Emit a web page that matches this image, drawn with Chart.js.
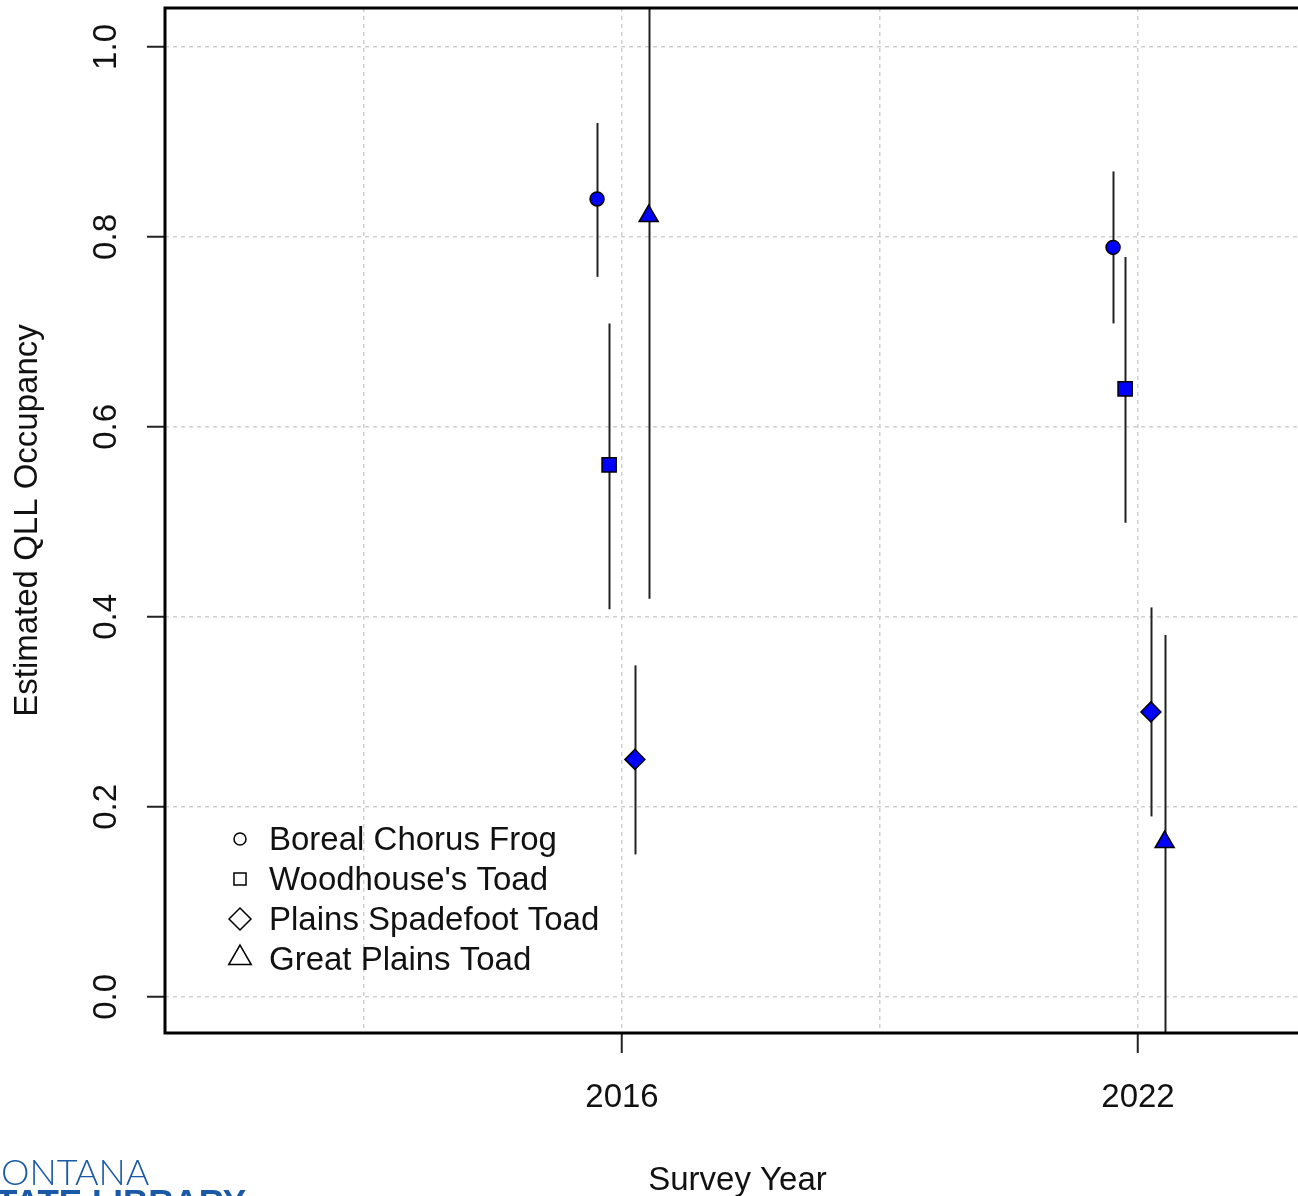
<!DOCTYPE html>
<html>
<head>
<meta charset="utf-8">
<script src="https://cdn.jsdelivr.net/npm/chart.js@4/dist/chart.umd.min.js"></script>
<style>
  html, body { margin: 0; padding: 0; background: #fff; overflow: hidden; }
  #wrap { width: 1298px; height: 1196px; overflow: hidden; position: relative; }
  #occChart { position: absolute; left: 0; top: 0; }
</style>
</head>
<body>
<div id="wrap"><canvas id="occChart" width="1310" height="1196"></canvas></div>
<script>
// survey years and species
const years = [2016, 2022];
const species = ['Boreal Chorus Frog', "Woodhouse's Toad", 'Plains Spadefoot Toad', 'Great Plains Toad'];
const symbols = ['circle', 'rect', 'rectRot', 'triangle'];

// estimated occupancy per species, one value per year
const chorusFrog = [0.84, 0.789];
const woodhouseToad = [0.56, 0.64];
const spadefootToad = [0.25, 0.30];
const greatPlainsToad = [0.822, 0.163];

// confidence limits
const chorusFrogLow = [0.758, 0.709];
const chorusFrogHigh = [0.92, 0.869];
const woodhouseToadLow = [0.408, 0.499];
const woodhouseToadHigh = [0.709, 0.779];
const spadefootToadLow = [0.15, 0.19];
const spadefootToadHigh = [0.349, 0.41];
const greatPlainsToadLow = [0.419, -0.055];
const greatPlainsToadHigh = [1.225, 0.381];

// small horizontal dodge so the bars don't overlap
const dodge = [-0.29, -0.15, 0.15, 0.31];

const yTicks = [0.0, 0.2, 0.4, 0.6, 0.8, 1.0];
const xGridYears = [2013, 2016, 2019, 2022];
const xLabelYears = [2016, 2022];

const estimates = [chorusFrog, woodhouseToad, spadefootToad, greatPlainsToad];
const lows = [chorusFrogLow, woodhouseToadLow, spadefootToadLow, greatPlainsToadLow];
const highs = [chorusFrogHigh, woodhouseToadHigh, spadefootToadHigh, greatPlainsToadHigh];
const radii = [7, 10, 10, 11];

const FONT = '"Liberation Sans", Arial, sans-serif';

const datasets = species.map((name, s) => ({
	label: name,
	data: years.map((yr, i) => ({ x: yr + dodge[s], y: estimates[s][i], lo: lows[s][i], hi: highs[s][i] })),
	pointStyle: symbols[s],
	pointRadius: radii[s],
	pointHoverRadius: radii[s],
	backgroundColor: '#0000ff',
	borderColor: '#000',
	borderWidth: 1.5,
	showLine: false
}));

// vertical confidence bars, drawn under the points
const errorBars = {
	id: 'errorBars',
	beforeDatasetsDraw(chart) {
		const ctx = chart.ctx;
		const area = chart.chartArea;
		const xs = chart.scales.x, ys = chart.scales.y;
		ctx.save();
		ctx.beginPath();
		ctx.rect(area.left, area.top, area.right - area.left, area.bottom - area.top);
		ctx.clip();
		ctx.strokeStyle = '#222';
		ctx.lineWidth = 2;
		chart.data.datasets.forEach(ds => {
			ds.data.forEach(p => {
				const px = Math.round(xs.getPixelForValue(p.x)) + 0.5;
				ctx.beginPath();
				ctx.moveTo(px, ys.getPixelForValue(p.lo));
				ctx.lineTo(px, ys.getPixelForValue(p.hi));
				ctx.stroke();
			});
		});
		ctx.restore();
	}
};

// box, legend and footer logo text
const decorations = {
	id: 'decorations',
	afterDraw(chart) {
		const ctx = chart.ctx;
		const a = chart.chartArea;
		ctx.save();
		ctx.strokeStyle = '#000';
		ctx.lineWidth = 3;
		ctx.strokeRect(a.left, a.top, a.right - a.left, a.bottom - a.top);

		// legend (open symbols)
		const rowY = [839, 879, 919, 959];
		const legendRadius = [6, 8.5, 11, 13];
		chart.data.datasets.forEach((ds, i) => {
			ctx.fillStyle = 'rgba(0,0,0,0)';
			ctx.strokeStyle = '#000';
			ctx.lineWidth = 1.5;
			Chart.helpers.drawPoint(ctx, { pointStyle: ds.pointStyle, radius: legendRadius[i], rotation: 0, borderWidth: 1.5 }, 240, rowY[i] - (i === 3 ? 1 : 0));
			ctx.fillStyle = '#111';
			ctx.font = '33px ' + FONT;
			ctx.textAlign = 'left';
			ctx.textBaseline = 'middle';
			ctx.fillText(ds.label, 269, rowY[i] + 2);
		});

		// partial library logo at the bottom left
		ctx.fillStyle = '#1a5aa6';
		ctx.textAlign = 'left';
		ctx.textBaseline = 'alphabetic';
		ctx.font = '300 36px Lato, "Open Sans", sans-serif';
		ctx.fillText('ONTANA', 1, 1185);
		ctx.font = 'bold 35px ' + FONT;
		ctx.fillText('TATE LIBRARY', -4, 1214);
		ctx.restore();
	}
};

new Chart(document.getElementById('occChart').getContext('2d'), {
	type: 'scatter',
	data: { datasets: datasets },
	options: {
		responsive: false,
		animation: false,
		layout: { autoPadding: false, padding: { top: 8, left: 0, right: 0, bottom: 0 } },
		plugins: { legend: { display: false }, tooltip: { enabled: false } },
		scales: {
			x: {
				type: 'linear',
				min: 2010.686,
				max: 2024,
				afterBuildTicks: scale => { scale.ticks = xGridYears.map(v => ({ value: v })); },
				afterFit: scale => { scale.height = 163; scale.paddingLeft = 0; scale.paddingRight = 0; },
				border: { display: false, dash: [4, 4] },
				grid: {
					color: '#d0d0d0',
					lineWidth: 1.5,
					tickLength: 20,
					tickWidth: 2,
					tickBorderDash: [],
					tickColor: c => (c.tick && xLabelYears.includes(c.tick.value)) ? '#222' : 'rgba(0,0,0,0)'
				},
				ticks: {
					color: '#111',
					font: { family: FONT, size: 33 },
					padding: 25,
					maxRotation: 0,
					callback: v => xLabelYears.includes(v) ? String(v) : ''
				},
				title: {
					display: true,
					text: 'Survey Year',
					color: '#111',
					font: { family: FONT, size: 33 },
					padding: { top: 0, bottom: -5 }
				}
			},
			y: {
				min: -0.038,
				max: 1.041,
				afterBuildTicks: scale => { scale.ticks = yTicks.map(v => ({ value: v })); },
				afterFit: scale => { scale.width = 165; scale.paddingTop = 0; scale.paddingBottom = 0; },
				border: { display: false, dash: [4, 4] },
				grid: {
					color: '#d0d0d0',
					lineWidth: 1.5,
					tickLength: 18,
					tickWidth: 2,
					tickBorderDash: [],
					tickColor: '#222'
				},
				ticks: {
					color: '#111',
					font: { family: FONT, size: 33 },
					minRotation: 90,
					maxRotation: 90,
					crossAlign: 'center',
					padding: 17,
					callback: v => v.toFixed(1)
				},
				title: {
					display: true,
					text: 'Estimated QLL Occupancy',
					color: '#111',
					font: { family: FONT, size: 33 },
					padding: { top: 8, bottom: 0 }
				}
			}
		}
	},
	plugins: [errorBars, decorations]
});
</script>
</body>
</html>
